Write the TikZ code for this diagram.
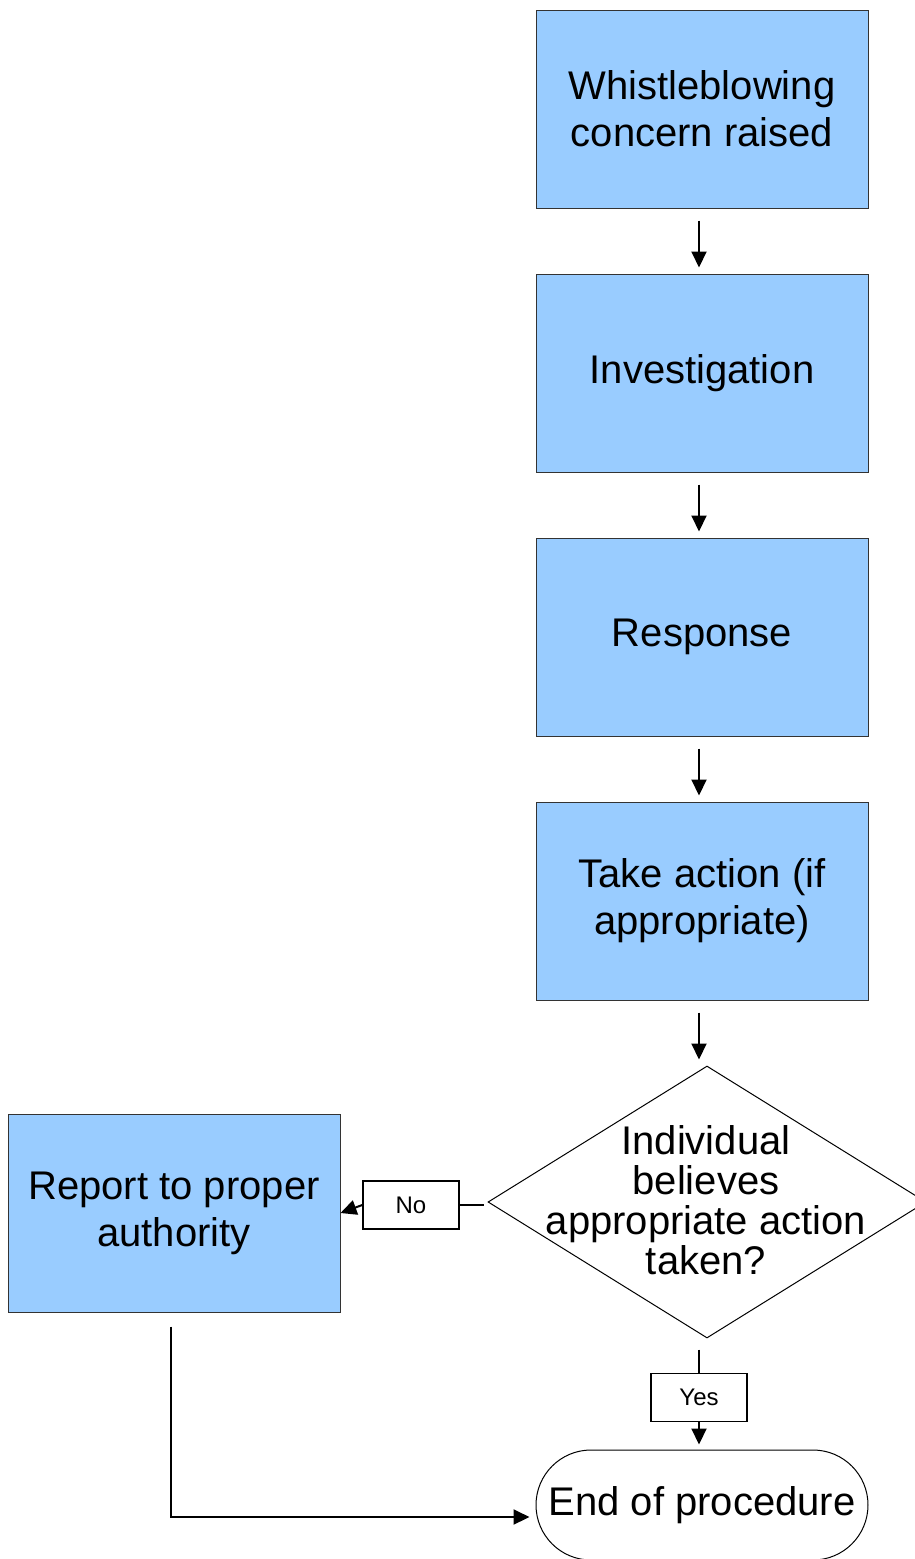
\documentclass[tikz,border=0pt]{standalone}
\usepackage{fontspec}
\setmainfont{Liberation Sans}
\usetikzlibrary{shapes.geometric,arrows.meta,calc}
\definecolor{boxblue}{HTML}{99CCFF}
\definecolor{boxedge}{HTML}{333333}
\begin{document}
\begin{tikzpicture}[x=1pt,y=-1pt,
  stepbox/.style={draw=boxedge,line width=1pt,fill=boxblue,minimum width=332pt,minimum height=198pt,inner sep=0pt,align=center,font=\fontsize{40}{47}\selectfont},
  lbl/.style={draw=black,line width=1.5pt,fill=white,minimum width=96pt,minimum height=48pt,inner sep=0pt,font=\fontsize{24}{28}\selectfont},
  arr/.style={line width=2pt,-{Triangle[length=16pt,width=15pt]}},
  ln/.style={line width=2pt}]
\useasboundingbox (0,0) rectangle (915,1559);
\node[stepbox] (b1) at (702,109) {Whistleblowing\\concern raised};
\node[stepbox] (b2) at (702,373) {Investigation};
\node[stepbox] (b3) at (702,637) {Response};
\node[stepbox] (b4) at (702,901) {Take action (if\\appropriate)};
\node[draw=black,line width=1pt,shape=diamond,minimum width=438pt,minimum height=272pt,inner sep=0pt] (dec) at (707,1202) {};
\node[align=center,font=\fontsize{40}{40}\selectfont,inner sep=0pt] (dect) at (706,1200) {Individual\\believes\\appropriate action\\taken?};
\node[stepbox] (rep) at (174,1213) {Report to proper\\authority};
\node[draw=black,line width=1pt,rounded corners=55pt,minimum width=332pt,minimum height=110pt,inner sep=0pt,font=\fontsize{40}{47}\selectfont] (end) at (702,1505) {End of procedure};
\node[lbl] (no) at (411,1205) {No};
\node[lbl] (yes) at (699,1397.5) {Yes};
\draw[arr] ([xshift=-3pt,yshift=-12pt]b1.south) -- ([xshift=-3pt,yshift=6pt]b2.north);
\draw[arr] ([xshift=-3pt,yshift=-12pt]b2.south) -- ([xshift=-3pt,yshift=6pt]b3.north);
\draw[arr] ([xshift=-3pt,yshift=-12pt]b3.south) -- ([xshift=-3pt,yshift=6pt]b4.north);
\draw[arr] ([xshift=-3pt,yshift=-12pt]b4.south) -- ([xshift=-3pt,yshift=6pt]b4.south |- dec.north);
\draw[ln] (no.east) -- ([xshift=-4pt]no.east -| dec.west);
\draw[arr] (no.west) -- (rep.east);
\draw[ln] ([xshift=-8pt,yshift=-11pt]dec.south) -- (yes.north);
\draw[arr] (yes.south) -- ([yshift=5pt]yes.south |- end.north);
\draw[arr] ([xshift=-3pt,yshift=-14pt]rep.south) |- ([xshift=-6pt,yshift=-12pt]end.west);
\end{tikzpicture}
\end{document}
